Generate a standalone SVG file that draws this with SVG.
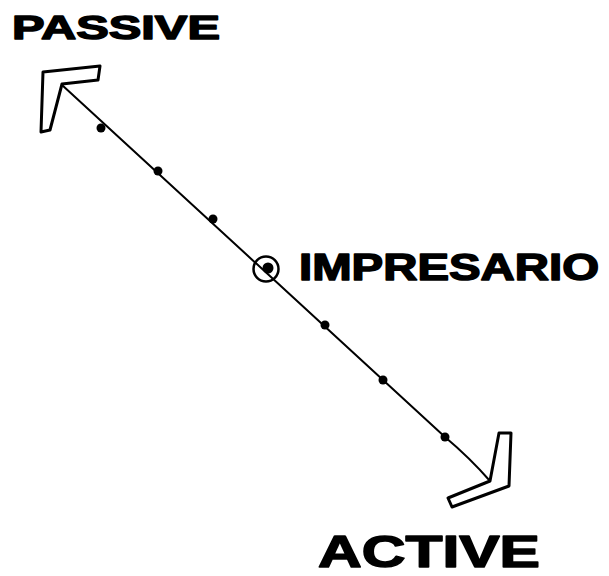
<svg xmlns="http://www.w3.org/2000/svg" width="609" height="576" viewBox="0 0 609 576">
<style>
.lbl{font-family:"Liberation Sans","DejaVu Sans",sans-serif;font-weight:bold;fill:#000;stroke:#000;stroke-width:1.5;stroke-linejoin:round}
.axis{fill:none;stroke:#000;stroke-width:2;stroke-linecap:round}
.head{fill:#fff;stroke:#000;stroke-width:3;stroke-linejoin:round}
.tick{fill:#000}
</style>
<rect width="609" height="576" fill="#fff"/>
<g id="connectors">
<path class="axis" d="M62,85 L445,437 Q470,458 490,481"/>
<polygon class="head" points="43,72 100,66 98,80 62,84 50,130 41,132"/>
<polygon class="head" points="499,433 511,433 509,486 452,507 448,498 490,481"/>
<circle class="tick" cx="101" cy="128" r="4.5"/>
<circle class="tick" cx="158" cy="171" r="4.5"/>
<circle class="tick" cx="213" cy="219" r="4.5"/>
<circle class="tick" cx="325" cy="325" r="4.5"/>
<circle class="tick" cx="383" cy="380" r="4.5"/>
<circle class="tick" cx="445" cy="437" r="4.5"/>
</g>
<g id="passive">
<text class="lbl" x="12" y="39" font-size="34" textLength="208" lengthAdjust="spacingAndGlyphs">PASSIVE</text>
</g>
<g id="impresario">
<circle cx="266" cy="269" r="12.5" fill="none" stroke="#000" stroke-width="2.5"/>
<circle cx="268" cy="268" r="5.5" fill="#000"/>
<text class="lbl" x="299" y="280" font-size="37" textLength="300" lengthAdjust="spacingAndGlyphs">IMPRESARIO</text>
</g>
<g id="active">
<text class="lbl" x="318" y="567" font-size="44" textLength="222" lengthAdjust="spacingAndGlyphs">ACTIVE</text>
</g>
</svg>
